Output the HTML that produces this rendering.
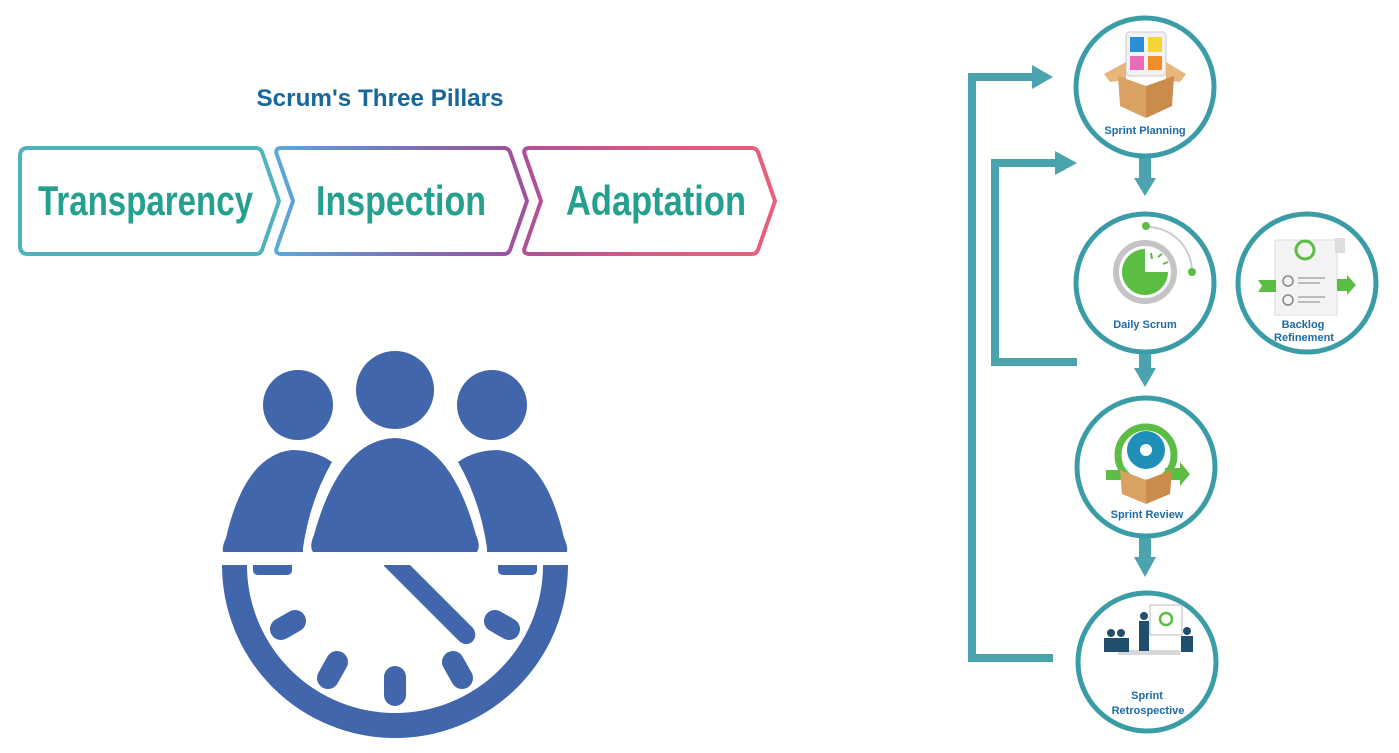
<!DOCTYPE html>
<html><head><meta charset="utf-8"><style>
html,body{margin:0;padding:0;background:#fff;}
svg{display:block;}
text{font-family:"Liberation Sans",sans-serif;}
</style></head><body>
<svg width="1399" height="753" viewBox="0 0 1399 753" xmlns="http://www.w3.org/2000/svg">
<defs>
<linearGradient id="g2" x1="0" x2="1"><stop offset="0" stop-color="#5ba8da"/><stop offset="0.6" stop-color="#7e6bb0"/><stop offset="1" stop-color="#a2509a"/></linearGradient>
<linearGradient id="g3" x1="0" x2="1"><stop offset="0" stop-color="#b04f96"/><stop offset="0.5" stop-color="#d95a82"/><stop offset="1" stop-color="#ea5f79"/></linearGradient>
</defs>
<rect width="1399" height="753" fill="#fff"/>

<!-- Title -->
<text x="380" y="106" text-anchor="middle" font-size="24" font-weight="bold" fill="#17679a" textLength="247" lengthAdjust="spacingAndGlyphs">Scrum's Three Pillars</text>

<!-- Chevrons -->
<path d="M28,148 H256 Q260,148 262,152 L279,201 L262,250 Q260,254 256,254 H28 Q20,254 20,246 V156 Q20,148 28,148 Z" fill="none" stroke="#4fb3bd" stroke-width="4" stroke-linejoin="round"/>
<path d="M282,148 H504 Q508,148 510,152 L527,201 L510,250 Q508,254 504,254 H282 Q274,254 277,247 L293,201 L277,155 Q274,148 282,148 Z" fill="none" stroke="url(#g2)" stroke-width="4" stroke-linejoin="round"/>
<path d="M530,148 H752 Q756,148 758,152 L775,201 L758,250 Q756,254 752,254 H530 Q522,254 525,247 L541,201 L525,155 Q522,148 530,148 Z" fill="none" stroke="url(#g3)" stroke-width="4" stroke-linejoin="round"/>
<g font-family="'Liberation Sans Narrow','Liberation Sans',sans-serif" font-weight="bold" font-size="42" fill="#24a08f">
<text x="38" y="215" textLength="215" lengthAdjust="spacingAndGlyphs">Transparency</text>
<text x="316" y="215" textLength="170" lengthAdjust="spacingAndGlyphs">Inspection</text>
<text x="566" y="215" textLength="180" lengthAdjust="spacingAndGlyphs">Adaptation</text>
</g>

<!-- People + clock -->
<g fill="#4166ab">
<circle cx="298" cy="405" r="35"/>
<circle cx="395" cy="390" r="39"/>
<circle cx="492" cy="405" r="35"/>
<path d="M223,552 Q222,546 226,538 Q245,455 292,450 Q315,450 332,462 Q310,500 303,548 L303,552 Z"/>
<path d="M567,552 Q568,546 564,538 Q545,455 498,450 Q475,450 458,462 Q480,500 487,548 L487,552 Z"/>
<path d="M313,552 Q309,546 314,535 Q340,440 395,438 Q450,440 476,535 Q481,546 477,552 Z"/>
<path d="M253,565 H292 V570 Q292,575 286,575 H259 Q253,575 253,570 Z"/>
<path d="M498,565 H537 V570 Q537,575 531,575 H504 Q498,575 498,570 Z"/>
<path d="M384,565 H410 L473,628 Q478,636 472,642 Q465,647 458,640 L384,566 Z"/>
</g>
<path d="M234.5,565 A160.5,160.5 0 0 0 555.5,565" fill="none" stroke="#4166ab" stroke-width="25"/>
<g stroke="#4166ab" stroke-width="22" stroke-linecap="round">
<line x1="281" y1="629" x2="295" y2="621"/>
<line x1="328" y1="678" x2="337" y2="662"/>
<line x1="395" y1="677" x2="395" y2="695"/>
<line x1="462" y1="678" x2="453" y2="662"/>
<line x1="509" y1="629" x2="495" y2="621"/>
</g>

<!-- Connectors -->
<g stroke="#4aa3ad" stroke-width="8" fill="none">
<polyline points="1053,658 972,658 972,77 1035,77"/>
<polyline points="1077,362 995,362 995,163 1058,163"/>
</g>
<g fill="#4aa3ad">
<polygon points="1032,65 1053,77 1032,89"/>
<polygon points="1055,151 1077,163 1055,175"/>
<rect x="1139" y="157" width="12" height="22"/>
<polygon points="1134,178 1156,178 1145,196"/>
<rect x="1139" y="353" width="12" height="18"/>
<polygon points="1134,368 1156,368 1145,387"/>
<rect x="1139" y="537" width="12" height="22"/>
<polygon points="1134,557 1156,557 1145,577"/>
</g>

<!-- Circles -->
<g fill="#fff" stroke="#3a9ca6" stroke-width="5">
<circle cx="1145" cy="87" r="69"/>
<circle cx="1145" cy="283" r="69"/>
<circle cx="1307" cy="283" r="69"/>
<circle cx="1146" cy="467" r="69"/>
<circle cx="1147" cy="662" r="69"/>
</g>

<!-- Planning icon -->
<rect x="1126" y="32" width="40" height="44" rx="4" fill="#f2f2f4" stroke="#ccc"/>
<rect x="1130" y="37" width="14" height="15" fill="#2b8fd6"/>
<rect x="1148" y="37" width="14" height="15" fill="#f5d531"/>
<rect x="1130" y="56" width="14" height="14" fill="#ea6cb8"/>
<rect x="1148" y="56" width="14" height="14" fill="#f08c2a"/>
<polygon points="1104,74 1126,62 1126,80 1110,82" fill="#e8b57a"/>
<polygon points="1186,74 1166,62 1166,80 1180,82" fill="#e8b57a"/>
<polygon points="1118,76 1146,86 1146,118 1120,106" fill="#d9a263"/>
<polygon points="1174,76 1146,86 1146,118 1172,106" fill="#c98c4b"/>
<text x="1145" y="134" text-anchor="middle" font-size="11" font-weight="bold" fill="#1d6aa6">Sprint Planning</text>

<!-- Daily scrum icon -->
<path d="M1145,227 A45,45 0 0 1 1192,272" fill="none" stroke="#ccc" stroke-width="2"/>
<circle cx="1145" cy="272" r="29" fill="none" stroke="#c4c4c8" stroke-width="6"/>
<path d="M1145,272 V249 A23,23 0 1 0 1168,272 Z" fill="#5cbd45"/>
<circle cx="1146" cy="226" r="4" fill="#5cbd45"/>
<circle cx="1192" cy="272" r="4" fill="#5cbd45"/>
<g stroke="#5cbd45" stroke-width="2"><line x1="1151" y1="253" x2="1152" y2="259"/><line x1="1158" y1="257" x2="1162" y2="254"/><line x1="1163" y1="264" x2="1168" y2="262"/></g>
<text x="1145" y="328" text-anchor="middle" font-size="11" font-weight="bold" fill="#1d6aa6">Daily Scrum</text>

<!-- Backlog icon -->
<rect x="1275" y="240" width="62" height="75" fill="#f3f3f3" stroke="#ddd"/>
<path d="M1335,238 h10 v15 h-10 z" fill="#ddd"/>
<circle cx="1305" cy="250" r="9" fill="none" stroke="#5cbd45" stroke-width="3"/>
<polygon points="1258,280 1276,280 1276,292 1258,292 1262,286" fill="#5cbd45"/>
<polygon points="1337,279 1347,279 1347,275 1356,285 1347,295 1347,291 1337,291" fill="#5cbd45"/>
<circle cx="1288" cy="281" r="5" fill="none" stroke="#888" stroke-width="1.5"/>
<circle cx="1288" cy="300" r="5" fill="none" stroke="#888" stroke-width="1.5"/>
<g stroke="#aaa" stroke-width="1.5"><line x1="1298" y1="278" x2="1325" y2="278"/><line x1="1298" y1="283" x2="1320" y2="283"/><line x1="1298" y1="297" x2="1325" y2="297"/><line x1="1298" y1="302" x2="1320" y2="302"/></g>
<text x="1303" y="328" text-anchor="middle" font-size="11" font-weight="bold" fill="#1d6aa6">Backlog</text>
<text x="1304" y="341" text-anchor="middle" font-size="11" font-weight="bold" fill="#1d6aa6">Refinement</text>

<!-- Review icon -->
<circle cx="1146" cy="455" r="28" fill="none" stroke="#5cbd45" stroke-width="7"/>
<polygon points="1106,470 1125,470 1125,480 1106,480" fill="#5cbd45"/>
<polygon points="1165,468 1180,468 1180,462 1190,474 1180,486 1180,480 1165,480" fill="#5cbd45"/>
<circle cx="1146" cy="450" r="19" fill="#1f8fb8"/>
<circle cx="1146" cy="450" r="6" fill="#fff"/>
<polygon points="1120,470 1146,480 1146,504 1122,494" fill="#d9a263"/>
<polygon points="1172,470 1146,480 1146,504 1170,494" fill="#c98c4b"/>
<text x="1147" y="518" text-anchor="middle" font-size="11" font-weight="bold" fill="#1d6aa6">Sprint Review</text>

<!-- Retro icon -->
<rect x="1150" y="605" width="32" height="30" fill="#fff" stroke="#bbb"/>
<circle cx="1166" cy="619" r="6" fill="none" stroke="#5cbd45" stroke-width="2.5"/>
<rect x="1118" y="650" width="62" height="5" fill="#d8d8d8"/>
<g fill="#1f4e6e">
<circle cx="1144" cy="616" r="4"/><rect x="1139" y="621" width="10" height="30"/>
<circle cx="1111" cy="633" r="4"/><rect x="1104" y="638" width="14" height="14"/>
<circle cx="1121" cy="633" r="4"/><rect x="1117" y="638" width="12" height="14"/>
<circle cx="1187" cy="631" r="4"/><rect x="1181" y="636" width="12" height="16"/>
</g>
<text x="1147" y="699" text-anchor="middle" font-size="11" font-weight="bold" fill="#1d6aa6">Sprint</text>
<text x="1148" y="714" text-anchor="middle" font-size="11" font-weight="bold" fill="#1d6aa6">Retrospective</text>
</svg>
</body></html>
